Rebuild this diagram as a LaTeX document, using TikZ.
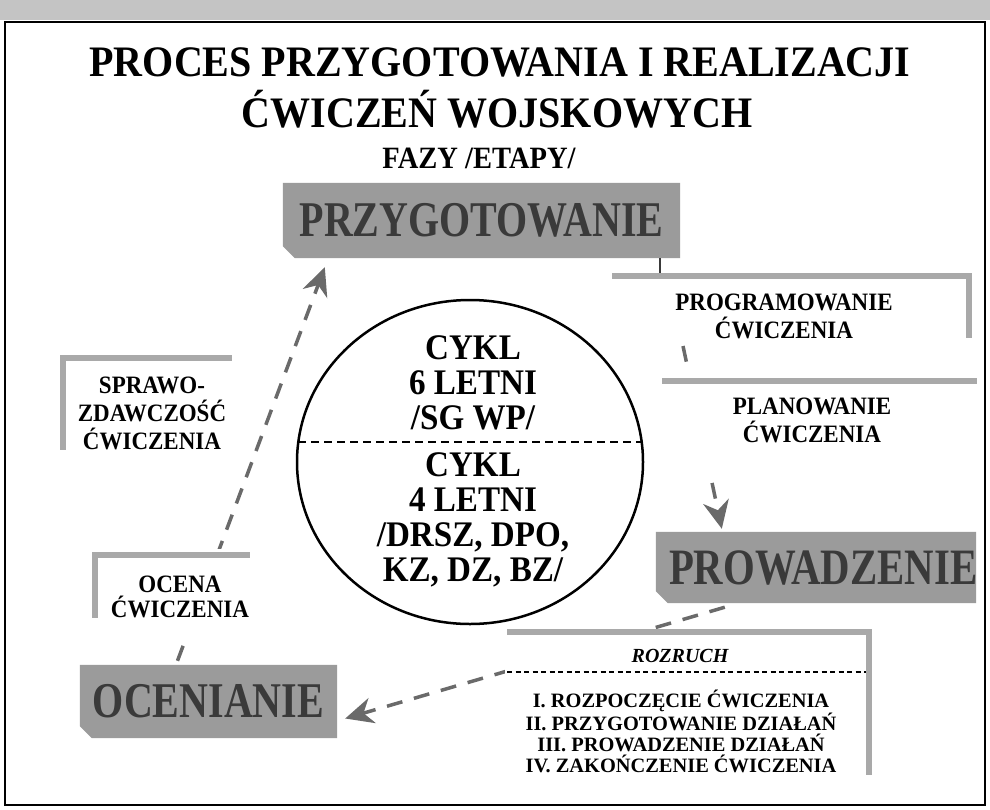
\documentclass[tikz,border=0pt]{standalone}
\usepackage{fontspec}
\setmainfont{Liberation Serif}
\newfontfamily\scanfont[FakeStretch=0.92]{Liberation Serif}
\newfontfamily\boxfont[FakeStretch=0.8]{Liberation Serif}
\usepackage{tikz}
\usetikzlibrary{calc,arrows.meta,shapes.geometric,backgrounds}

\definecolor{bandgray}{HTML}{C4C4C4}
\definecolor{phasegray}{HTML}{9B9B9B}
\definecolor{phaseink}{HTML}{3A3A3A}
\definecolor{brkgray}{HTML}{A9A9A9}
\definecolor{flowgray}{HTML}{6A6A6A}

\tikzset{
	title/.style={font=\scanfont\bfseries\fontsize{43.5}{48}\selectfont},
	phase/.style={inner sep=0pt, text=phaseink, font=\boxfont\bfseries\fontsize{50}{50}\selectfont},
	stagetext/.style={align=center, inner sep=0pt, font=\scanfont\bfseries\fontsize{25}{28}\selectfont},
	cycletext/.style={align=center, inner sep=0pt, font=\scanfont\bfseries\fontsize{36}{35}\selectfont},
	brk/.style={draw=brkgray, line width=6pt},
	flow/.style={draw=flowgray, line width=3.5pt, dash pattern=on 16pt off 12pt, -{Stealth[length=28pt,width=26pt,inset=9pt]}}
}

\begin{document}
\begin{tikzpicture}[x=1pt,y=-1pt]
			\useasboundingbox (0,0) rectangle (990,809);
			\fill[bandgray] (0,0) rectangle (990,20);
			\draw[line width=1.5pt] (5,22) rectangle (985,805);
			
			\node[title, anchor=base] (title1) at (500,76) {PROCES PRZYGOTOWANIA I REALIZACJI};
			\node[title, anchor=base] (title2) at (497,127) {ĆWICZEŃ WOJSKOWYCH};
			\node[title, anchor=base, font=\scanfont\bfseries\fontsize{31}{34}\selectfont] (fazy) at (479,168) {FAZY /ETAPY/};
			
			\node[phase, minimum width=397pt, minimum height=75pt] (przyg) at (481.5,220.5) {PRZYGOTOWANIE};
			\node[phase, minimum width=320pt, minimum height=71pt] (prow) at (816,567.5) {};
			\begin{scope}
				\clip (prow.south west) rectangle (prow.north east);
				\node[phase, anchor=west, font=\boxfont\bfseries\fontsize{51}{51}\selectfont] (prowtxt) at ([xshift=13pt]prow.west) {PROWADZENIE};
			\end{scope}
			\node[phase, minimum width=257pt, minimum height=73pt] (ocen) at (208.5,701.5) {OCENIANIE};
			\begin{scope}[on background layer]
				\foreach \b in {przyg,prow,ocen}
					\fill[phasegray] (\b.north west) -- (\b.north east) -- (\b.south east) -- ([xshift=12pt]\b.south west) -- ([yshift=12pt]\b.south west) -- cycle;
			\end{scope}
			
			\coordinate (ocenout) at ($(ocen.north)+(-31,-4)$);
			\coordinate (przygin) at ($(przyg.south west)+(42,9)$);
			\coordinate (progout) at (683,346);
			\coordinate (prowin) at ($(prow.north west)+(66,-3)$);
			\coordinate (prowout) at ($(prow.south west)+(69,4)$);
			\coordinate (ocenin) at ($(ocen.east)+(8,17)$);
			\coordinate (progtop) at (660,274);
			
			\draw[flow] (ocenout) -- (przygin);
			\draw[flow] (progout) -- (prowin);
			\draw[flow] (prowout) -- (ocenin);
			
			\draw[line width=1.5pt, phaseink] (przyg.south -| progtop) -- (progtop);
			\node[stagetext] (prog) at (784,316) {PROGRAMOWANIE\\ĆWICZENIA};
			\draw[brk] (612,276) -- (969,276) -- (969,338);
			
			\node[stagetext, fill=white, minimum width=320pt, minimum height=104pt] (plan) at (812,420) {PLANOWANIE\\ĆWICZENIA};
			\draw[brk] (662,381) -- (977,381);
			
			\node[stagetext] (spraw) at (152,413.5) {SPRAWO-\\ZDAWCZOŚĆ\\ĆWICZENIA};
			\draw[brk] (60,358) -- (232,358);
			\draw[brk] (63,358) -- (63,450);
			
			\node[stagetext, fill=white, minimum width=150pt, minimum height=95pt, font=\scanfont\bfseries\fontsize{25}{25}\selectfont] (ocena) at (180,596.5) {OCENA\\ĆWICZENIA};
			\draw[brk] (92,555) -- (250,555);
			\draw[brk] (95,555) -- (95,618);
			
			\fill[white] (505,629) rectangle (866,690);
			\draw[brk] (507,632) -- (869,632) -- (869,775);
			\node[anchor=base, font=\bfseries\itshape\fontsize{20}{22}\selectfont] (rozruch) at (680,662) {ROZRUCH};
			\draw[line width=1.2pt, dash pattern=on 5pt off 3.5pt] (507,672) -- (866,672);
			\node[align=center, inner sep=0pt, font=\bfseries\fontsize{20.4}{21}\selectfont] (etapy) at (681,731) {I. ROZPOCZĘCIE ĆWICZENIA\\II. PRZYGOTOWANIE DZIAŁAŃ\\III. PROWADZENIE DZIAŁAŃ\\IV. ZAKOŃCZENIE ĆWICZENIA};
			
			\node[ellipse, draw, line width=2.5pt, minimum width=346pt, minimum height=324pt] (cykl) at (470,462) {};
			\draw[line width=1.5pt, dash pattern=on 8pt off 5pt] (298,442) -- (642,442);
			\node[cycletext] (cykl6) at (473,383) {CYKL\\6 LETNI\\/SG WP/};
			\node[cycletext] (cykl4) at (473,520) {CYKL\\4 LETNI\\/DRSZ, DPO,\\KZ, DZ, BZ/};
		\end{tikzpicture}
\end{document}
